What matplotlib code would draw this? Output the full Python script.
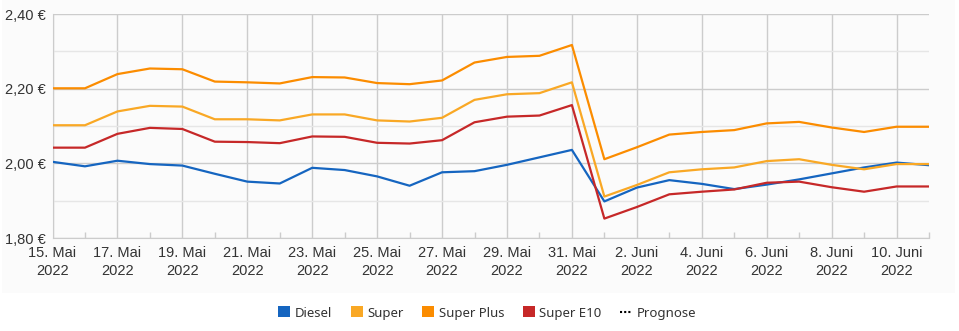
import matplotlib
matplotlib.use("Agg")
import matplotlib.pyplot as plt
from matplotlib.patches import Patch, Rectangle
from matplotlib.lines import Line2D
import numpy as np

plt.rcParams["font.family"] = ["Liberation Sans", "DejaVu Sans"]

dates = ["15. Mai", "16. Mai", "17. Mai", "18. Mai", "19. Mai", "20. Mai", "21. Mai",
         "22. Mai", "23. Mai", "24. Mai", "25. Mai", "26. Mai", "27. Mai", "28. Mai",
         "29. Mai", "30. Mai", "31. Mai", "1. Juni", "2. Juni", "3. Juni", "4. Juni",
         "5. Juni", "6. Juni", "7. Juni", "8. Juni", "9. Juni", "10. Juni", "11. Juni"]
year = "2022"

diesel = [2.004, 1.992, 2.007, 1.998, 1.994, 1.972, 1.951, 1.946, 1.988, 1.982,
          1.965, 1.940, 1.976, 1.979, 1.996, 2.016, 2.036, 1.898, 1.935, 1.955,
          1.945, 1.931, 1.943, 1.957, 1.973, 1.989, 2.002, 1.995]
super_ = [2.102, 2.102, 2.139, 2.154, 2.152, 2.118, 2.118, 2.115, 2.131, 2.131,
          2.115, 2.112, 2.122, 2.170, 2.185, 2.188, 2.217, 1.911, 1.942, 1.976,
          1.984, 1.989, 2.006, 2.011, 1.996, 1.984, 1.998, 1.998]
super_plus = [2.201, 2.201, 2.239, 2.254, 2.252, 2.219, 2.217, 2.214, 2.231, 2.230,
              2.215, 2.212, 2.222, 2.270, 2.285, 2.288, 2.317, 2.011, 2.043, 2.077,
              2.084, 2.089, 2.107, 2.111, 2.096, 2.084, 2.098, 2.098]
super_e10 = [2.042, 2.042, 2.079, 2.095, 2.092, 2.058, 2.057, 2.054, 2.072, 2.071,
             2.055, 2.053, 2.062, 2.110, 2.125, 2.128, 2.156, 1.852, 1.883, 1.917,
             1.924, 1.930, 1.948, 1.951, 1.936, 1.924, 1.938, 1.938]

series_names = ["Diesel", "Super", "Super Plus", "Super E10"]
series_values = [diesel, super_, super_plus, super_e10]
series_colors = ["#1565c0", "#f9a825", "#fb8c00", "#c62828"]

y_ticks = [1.80, 2.00, 2.20, 2.40]
y_minor = [1.90, 2.10, 2.30]

W, H = 959, 331
fig = plt.figure(figsize=(W / 100, H / 100), dpi=100)
fig.patch.set_facecolor("white")
fig.add_artist(Rectangle((2 / W, 1 - 293 / H), 953 / W, 293 / H, transform=fig.transFigure,
                         facecolor="#fbfbfb", edgecolor="none", zorder=-10))

ax = fig.add_axes([52.5 / W, 1 - 238 / H, (929 - 52.5) / W, (238 - 14) / H])
ax.set_facecolor("#fbfbfb")
x = np.arange(len(dates))

for name, vals, col in zip(series_names, series_values, series_colors):
    ax.plot(x, vals, color=col, lw=1.6, solid_joinstyle="round", zorder=3)

ax.set_xlim(0, len(dates) - 1)
ax.set_ylim(1.80, 2.40)

major_x = x[::2]
ax.set_xticks(major_x)
ax.set_xticklabels([f"{dates[i]}\n{year}" for i in major_x], linespacing=1.35)
ax.set_xticks(x[1::2], minor=True)
ax.set_yticks(y_ticks)
ax.set_yticklabels([f"{v:.2f} €".replace(".", ",") for v in y_ticks])
ax.set_yticks(y_minor, minor=True)

ax.grid(True, which="major", axis="both", color="#cccccc", lw=1.0, zorder=0)
ax.grid(True, which="minor", axis="y", color="#e6e6e6", lw=1.0, zorder=0)

ax.tick_params(axis="x", which="major", length=0, pad=6, labelsize=10.5, labelcolor="#333333")
ax.tick_params(axis="x", which="minor", direction="in", length=4, color="#cccccc", width=1)
ax.tick_params(axis="y", which="both", length=0, pad=5, labelsize=10.5, labelcolor="#333333")

for s in ["top", "right"]:
    ax.spines[s].set_visible(False)
ax.spines["left"].set_color("#cccccc")
ax.spines["bottom"].set_color("#cccccc")

handles = [Patch(facecolor=c, edgecolor="none") for c in series_colors]
handles.append(Line2D([0], [0], color="black", lw=1.5, linestyle=(0, (1, 1))))
labels = series_names + ["Prognose"]
fig.legend(handles, labels, loc="center", bbox_to_anchor=(0.508, 1 - 313 / H), ncol=5,
           frameon=False, prop={"family": "Noto Sans", "size": 9.5}, handlelength=0.9,
           handleheight=0.9, handletextpad=0.35, columnspacing=1.4, labelcolor="#333333")

fig.savefig("out.png", dpi=100)
